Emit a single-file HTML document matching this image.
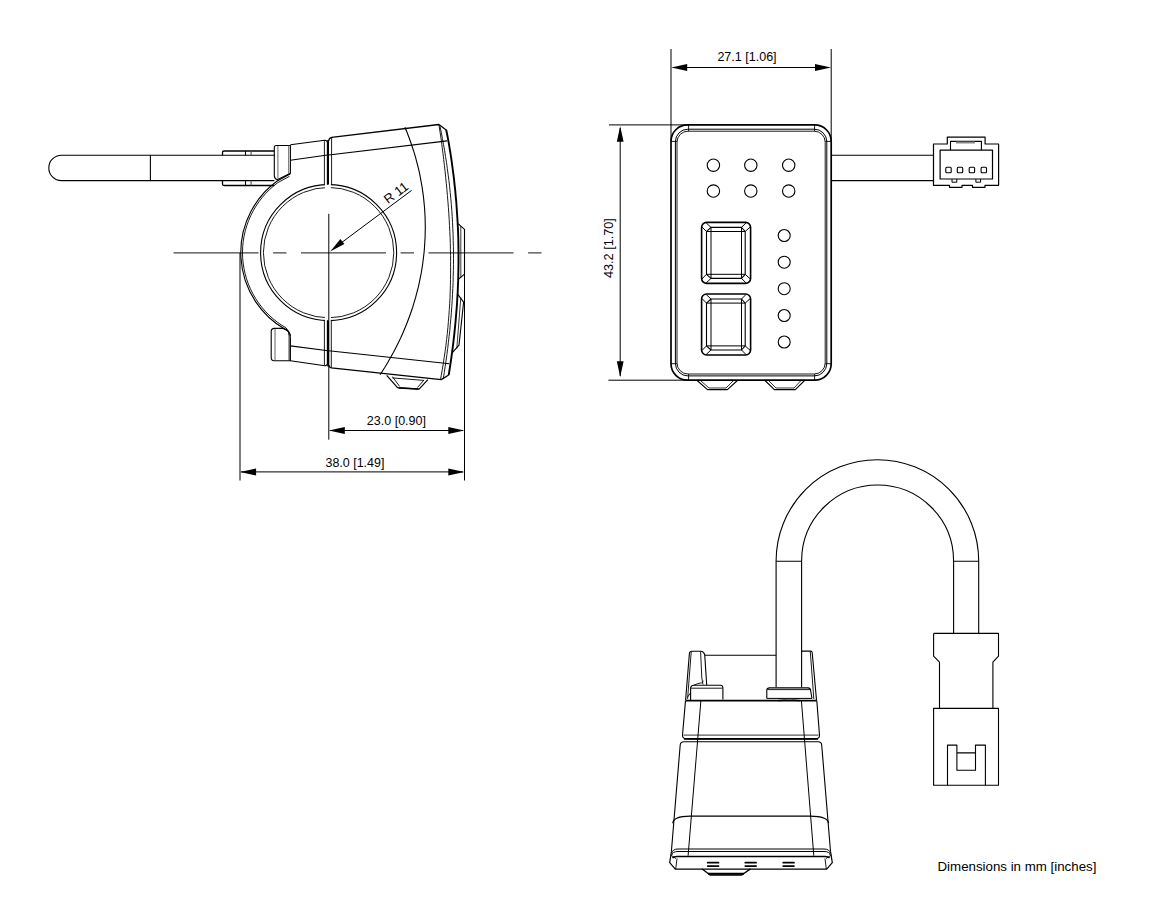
<!DOCTYPE html>
<html><head><meta charset="utf-8">
<style>
html,body{margin:0;padding:0;background:#fff;}
body{width:1165px;height:910px;overflow:hidden;position:relative;}
svg{position:absolute;left:0;top:0;}
text{font-family:"Liberation Sans",sans-serif;fill:#000;}
</style></head>
<body>
<svg width="1165" height="910" viewBox="0 0 1165 910">
<g id="left" fill="none" stroke="#000" stroke-width="1.1" stroke-linejoin="round">
  <!-- center line -->
  <line x1="173.5" y1="252.9" x2="541.5" y2="252.9" stroke="#444" stroke-width="1.3" stroke-dasharray="85 14.6 13.4 14.5"/>
  <!-- rod -->
  <path d="M274.3,155.2 H61.5 A12.7,12.7 0 0 0 61.5,180.6 H274.3"/>
  <line x1="150.4" y1="155.2" x2="150.4" y2="180.6"/>
  <!-- bracket bands -->
  <path d="M274.3,151 H224 Q222.5,151 222.5,152.5 V155.2" stroke-width="1.3"/>
  <path d="M274.3,185.5 H224 Q222.5,185.5 222.5,184 V180.6" stroke-width="1.3"/>
  <path d="M245.5,151 V155.2 M245.5,180.6 V185.5" stroke-width="1.1"/>
  <path d="M251.1,151 V155.2 M251.1,180.6 V185.5" stroke-width="1.1" stroke="#555"/>
  <!-- upper tab -->
  <path d="M290.4,145.5 H276.3 Q274.3,145.5 274.3,147.5 V175.5 Q274.3,178.6 277.2,179.8 L290.4,173.2 Z"/>
  <path d="M277.9,146 V178.5 M288.7,145.5 V174" stroke-width="0.9" stroke="#555"/>
  <!-- clamp outer arc (double) -->
  <path d="M290.4,173.8 L277.2,181 A88.6,88.6 0 0 0 285.4,329.5 Q289.5,331 290.4,336"/>
  <path d="M289.5,176.3 L277.9,182.6 A86.9,86.9 0 0 0 286.2,328 Q289,330.5 289.1,336 V360.5" stroke-width="0.9"/>
  <!-- lower tab -->
  <path d="M290.4,360.7 H274 Q271.2,360.7 271.2,357.5 V331.5 Q271.2,328.4 274.3,328.4 H283 Q290.4,330 290.4,338 Z"/>
  <path d="M275,329 V360" stroke-width="0.9" stroke="#555"/>
  <!-- inner circle double with split -->
  <circle cx="328.6" cy="252.6" r="68"/>
  <circle cx="328.6" cy="252.6" r="65.2" stroke-width="0.9"/>
  <rect x="324.9" y="180" width="6" height="12" fill="#fff" stroke="none"/>
  <rect x="324.9" y="313" width="6" height="12" fill="#fff" stroke="none"/>
  <!-- upper wedge -->
  <path d="M290.4,144.8 L324.7,140.2 Q327.2,140.2 327.4,142.5 V184.8"/>
  <path d="M290.4,160.3 L327.4,155"/>
  <path d="M324.4,141.2 V184.8" stroke-width="0.9"/>
  <!-- lower wedge -->
  <path d="M290.4,345.9 L328.2,350.7"/>
  <path d="M290.4,360.7 L324.8,365.8 Q327.2,365.8 327.4,363.5 V320.3"/>
  <path d="M324.4,320.3 V365" stroke-width="0.9"/>
  <!-- split thick -->
  <path d="M328.1,140 V184.6 M328.1,320.4 V366.5" stroke-width="1.8"/>
  <!-- body top -->
  <path d="M328.6,141 Q329.2,137.6 331.6,137.3 L438.9,124.5 L446.5,130.2" stroke-width="1.3"/>
  <path d="M446.5,130.2  L446.3,130.2 L447.5,136.2 L448.6,142.2 L449.6,148.2 L450.6,154.2 L451.5,160.2 L452.3,166.2 L453.1,172.2 L453.9,178.2 L454.5,184.2 L455.2,190.2 L455.7,196.2 L456.3,202.2 L456.7,208.2 L457.1,214.2 L457.5,220.2 L457.8,226.2 L458.1,232.2 L458.3,238.2 L458.4,244.2 L458.5,250.2 L458.5,256.2 L458.5,262.2 L458.4,268.2 L458.3,274.2 L458.2,280.2 L457.9,286.2 L457.7,292.2 L457.3,298.2 L457.0,304.2 L456.5,310.2 L456.0,316.2 L455.5,322.2 L454.9,328.2 L454.3,334.2 L453.6,340.2 L452.9,346.2 L452.1,352.2 L451.3,358.2 L450.4,364.2 L449.5,370.2 L448.7,375.0" stroke-width="1.9"/>
  <path d="M448.7,375.0 L441.2,379.6 L331.3,367.9 Q329,367.5 328.8,365" stroke-width="1.3"/>
  <path d="M331.6,137.3 V184.6 M331.3,320.4 V367.9" stroke-width="0.9"/>
  <!-- band lines -->
  <path d="M328.7,155 L447.1,140.9"/>
  <path d="M328.7,350.7 L449.3,363.7"/>
  <!-- inner right double lines -->
  <path d="M438.9,124.5 L441.5,141.5 L442.2,147.5 L443.0,153.5 L443.7,159.5 L444.4,165.5 L445.1,171.5 L445.7,177.5 L446.3,183.5 L446.9,189.5 L447.4,195.5 L447.9,201.5 L448.4,207.5 L448.8,213.5 L449.2,219.5 L449.5,225.5 L449.8,231.5 L450.1,237.5 L450.3,243.5 L450.4,249.5 L450.6,255.5 L450.6,261.5 L450.6,267.5 L450.6,273.5 L450.5,279.5 L450.4,285.5 L450.2,291.5 L450.0,297.5 L449.7,303.5 L449.3,309.5 L448.9,315.5 L448.4,321.5 L447.9,327.5 L447.3,333.5 L446.6,339.5 L445.9,345.5 L445.1,351.5 L444.2,357.5 L443.3,363.5 L442.3,369.5 L441.2,375.5 L440.6,379.2" stroke-width="0.9"/>
  <path d="M440.0,126.4 L441.3,132.4 L442.4,138.4 L443.5,144.4 L444.6,150.4 L445.5,156.4 L446.5,162.4 L447.3,168.4 L448.1,174.4 L448.9,180.4 L449.6,186.4 L450.2,192.4 L450.8,198.4 L451.3,204.4 L451.8,210.4 L452.2,216.4 L452.5,222.4 L452.8,228.4 L453.1,234.4 L453.2,240.4 L453.4,246.4 L453.5,252.4 L453.5,258.4 L453.5,264.4 L453.4,270.4 L453.2,276.4 L453.1,282.4 L452.8,288.4 L452.5,294.4 L452.2,300.4 L451.8,306.4 L451.4,312.4 L450.9,318.4 L450.3,324.4 L449.8,330.4 L449.1,336.4 L448.4,342.4 L447.7,348.4 L446.9,354.4 L446.1,360.4 L445.2,366.4 L444.3,372.4 L443.3,378.4 L443.2,378.9" stroke-width="0.9"/>
  <!-- big arc on body -->
  <path d="M404.9,127.2 L407.0,132.2 L408.9,137.2 L410.7,142.2 L412.4,147.2 L414.0,152.2 L415.5,157.2 L416.8,162.2 L418.1,167.2 L419.3,172.2 L420.3,177.2 L421.2,182.2 L422.1,187.2 L422.8,192.2 L423.5,197.2 L424.0,202.2 L424.5,207.2 L424.8,212.2 L425.1,217.2 L425.2,222.2 L425.3,227.2 L425.2,232.2 L425.1,237.2 L424.8,242.2 L424.5,247.2 L424.1,252.2 L423.5,257.2 L422.9,262.2 L422.2,267.2 L421.4,272.2 L420.4,277.2 L419.4,282.2 L418.3,287.2 L417.0,292.2 L415.7,297.2 L414.2,302.2 L412.7,307.2 L411.0,312.2 L409.2,317.2 L407.3,322.2 L405.3,327.2 L403.2,332.2 L401.0,337.2 L398.6,342.2 L396.1,347.2 L393.5,352.2 L390.7,357.2 L387.9,362.2 L384.9,367.2 L381.7,372.2 L380.0,374.8"/>
  <!-- buttons on right -->
  <path d="M458,223.7 L464.5,229.3 V274.1 L458,279.7"/>
  <path d="M460.8,226 V277.5" stroke-width="0.8"/>
  <path d="M458,294.7 L463.6,302.2 L459,345.1 L452.4,352.6"/>
  <path d="M460.8,297.5 L456.8,348.5" stroke-width="0.8"/>
  <!-- bottom foot -->
  <path d="M386.7,375.3 L397.5,387.7 L419.1,389.2 L427.9,379.7" stroke-width="1.2"/>
  <path d="M392.4,376.6 L399.6,386.4 M424,380 L417.5,387.5 M392.4,377.9 L423.8,380.4" stroke-width="0.9"/>
  <path d="M398.5,388 L418.5,389" stroke-width="1.6"/>
  <!-- vertical center & dim ext lines -->
  <path d="M328.8,213.8 V439.7" stroke-width="1"/>
  <path d="M240,253 V480.5 M464.5,229.3 V480.5" stroke-width="1"/>
  <!-- dims -->
  <path d="M330,430.5 H463" stroke-width="1"/>
  <path d="M241,471.9 H463" stroke-width="1"/>
  <!-- R11 leader -->
  <path d="M411.6,190.4 L335,247.5" stroke-width="1"/>
</g>
<g fill="#000" stroke="none">
  <path d="M328.8,430.5 l16,-3.5 v7 z M464.3,430.5 l-16,-3.5 v7 z"/>
  <path d="M240.1,471.9 l16,-3.5 v7 z M464.3,471.9 l-16,-3.5 v7 z"/>
  <path d="M330.2,251.4 L340.4,239 L344.4,243.9 Z"/>
</g>
<g font-size="13">
  <text x="366.8" y="424.6" textLength="59.2" lengthAdjust="spacingAndGlyphs">23.0 [0.90]</text>
  <text x="325.5" y="467.1" textLength="58.9" lengthAdjust="spacingAndGlyphs">38.0 [1.49]</text>
  <text x="0" y="0" transform="translate(388,204.2) rotate(-36.6)">R 11</text>
</g>


<g id="front" fill="none" stroke="#000" stroke-width="1.1" stroke-linejoin="round">
  <!-- dims ext -->
  <path d="M671,49 V141 M831.2,49 V141" stroke-width="1"/>
  <path d="M673,67.5 H829" stroke-width="1"/>
  <path d="M609,124.9 H688 M608.4,380.2 H688" stroke-width="1"/>
  <path d="M620.2,128 V376" stroke-width="1"/>
  <!-- body -->
  <rect x="671" y="124.9" width="160.2" height="255.3" rx="16.5" stroke-width="1.7"/>
  <rect x="675.4" y="129.2" width="151.4" height="246.7" rx="12.5" stroke-width="1"/>
  <rect x="677" y="131.2" width="148.2" height="242.8" rx="11" stroke-width="0.9"/>
  <path d="M688.6,125 V131.2 M814.6,125 V131.2 M688.6,374 V380.2 M814.6,374 V380.2 M671,141.4 H677 M825.2,141.4 H831.2 M671,363.7 H677 M825.2,363.7 H831.2" stroke-width="0.9"/>
  <!-- dots -->
  <circle cx="713.4" cy="165.2" r="6.2"/><circle cx="750.8" cy="165.2" r="6.2"/><circle cx="788.7" cy="165.2" r="6.2"/>
  <circle cx="713.4" cy="191.1" r="6.2"/><circle cx="750.8" cy="191.1" r="6.2"/><circle cx="788.7" cy="191.1" r="6.2"/>
  <circle cx="784.2" cy="235.5" r="6"/><circle cx="784.2" cy="262.2" r="6"/><circle cx="784.2" cy="288.7" r="6"/><circle cx="784.2" cy="315.5" r="6"/><circle cx="784.2" cy="342" r="6"/>

  <g transform="translate(0,0)">
  <rect x="701.6" y="222.4" width="49" height="61" rx="5" stroke-width="1.6"/>
  <path d="M706.5,231.5 L711,227.4 H741.5 L745.2,231.5 V274.3 L741.5,278.4 H711 L706.5,274.3 Z"/>
  <path d="M706.5,231.5 H745.2 M706.5,274.3 H745.2 M711,227.4 V278.4 M741.5,227.4 V278.4" stroke-width="1"/>
  <path d="M706.1,222.8 L711,227.4 M701.8,226.8 L706.5,231.5 M746.1,222.8 L741.5,227.4 M750.4,226.8 L745.2,231.5 M706.1,283 L711,278.4 M701.8,279 L706.5,274.3 M746.1,283 L741.5,278.4 M750.4,279 L745.2,274.3" stroke-width="1"/>
  </g>
  <g transform="translate(0,71.6)">
  <rect x="701.6" y="222.4" width="49" height="61" rx="5" stroke-width="1.6"/>
  <path d="M706.5,231.5 L711,227.4 H741.5 L745.2,231.5 V274.3 L741.5,278.4 H711 L706.5,274.3 Z"/>
  <path d="M706.5,231.5 H745.2 M706.5,274.3 H745.2 M711,227.4 V278.4 M741.5,227.4 V278.4" stroke-width="1"/>
  <path d="M706.1,222.8 L711,227.4 M701.8,226.8 L706.5,231.5 M746.1,222.8 L741.5,227.4 M750.4,226.8 L745.2,231.5 M706.1,283 L711,278.4 M701.8,279 L706.5,274.3 M746.1,283 L741.5,278.4 M750.4,279 L745.2,274.3" stroke-width="1"/>
  </g>
  <!-- feet -->
  <path d="M697.1,380.5 L707.5,389.6 H727.4 L737.4,380.5"/>
  <path d="M701,381 L709,388 H726 L733,381" stroke-width="0.8"/>
  <path d="M765,380.5 L774.4,389.6 H795.3 L804.6,380.5"/>
  <path d="M769,381 L776,388 H794 L800.5,381" stroke-width="0.8"/>
  <!-- cable -->
  <path d="M831.2,155.2 H933.5 M831.2,180.6 H933.5"/>
  <!-- connector -->
  <path d="M933.5,144 H947.3 V137.2 H985.1 V144 H998.6 V185.3 H985 V187.3 H972.5 V185.3 H962 V187.3 H949.5 V185.3 H933.5 Z" stroke-width="1.2"/>
  <rect x="940.1" y="150.1" width="52.4" height="28.9" stroke-width="1.2"/>
  <path d="M950.5,150.1 V141.4 H981.4 V150.1" />
  <path d="M956,142.5 H975" stroke="#888" stroke-width="2"/>
  <rect x="945.8" y="167.3" width="5.4" height="5.4" rx="1"/>
  <rect x="957.3" y="167.3" width="5.4" height="5.4" rx="1"/>
  <rect x="969.2" y="167.3" width="5.4" height="5.4" rx="1"/>
  <rect x="981.1" y="167.3" width="5.4" height="5.4" rx="1"/>
  <path d="M952,179 V182.2 H956.8 V179 M975.9,179 V182.2 H980.6 V179" stroke-width="1"/>
</g>
<g fill="#000" stroke="none">
  <path d="M671.2,67.5 l16,-3.5 v7 z M831,67.5 l-16,-3.5 v7 z"/>
  <path d="M620.2,126.2 l-3.4,15.5 h6.8 z M620.2,377.1 l-3.4,-15.8 h6.8 z"/>
</g>
<g font-size="13">
  <text x="717.4" y="60.8" textLength="59.2" lengthAdjust="spacingAndGlyphs">27.1 [1.06]</text>
  <text x="-29.9" y="0" textLength="59.8" lengthAdjust="spacingAndGlyphs" transform="translate(612.7,248.1) rotate(-90)">43.2 [1.70]</text>
</g>

<g id="bottom" fill="none" stroke="#000" stroke-width="1.1" stroke-linejoin="round">
  <!-- cable arch -->
  <path d="M776.1,687.2 V561 A101.3,101.3 0 0 1 978.7,561 V633.4"/>
  <path d="M801.6,687.2 V561 A76,76 0 0 1 953.6,561 V633.4"/>
  <path d="M776.1,561.2 H801.6 M953.6,561.2 H978.7" stroke="#000"/>
  <!-- connector -->
  <path d="M933.6,633.4 H998.5 V656.2 L992.9,662.1 V708.4 M933.6,633.4 V656.2 L939.5,662.1 V708.4"/>
  <rect x="933.6" y="708.4" width="64.9" height="76.9"/>
  <path d="M947.5,785.3 V745.1 H956.9 V770.3 H975.5 V745.1 H985.4 V785.3 M956.9,752.9 H975.5"/>
  <!-- module top posts -->
  <path d="M685.6,700 L689.4,653.5 Q689.6,651.3 691.8,651.3 H701 Q703.5,651.3 704.7,654.5 L706.7,685"/>
  <path d="M691.2,652 L687.6,699" stroke-width="0.9"/>
  <path d="M700.6,651.6 L701.8,678 L703,684.5" stroke-width="0.9"/>
  <path d="M693.5,685.4 Q697,683.4 701.5,682.8 L703.5,681" stroke-width="0.9"/>
  <path d="M687.2,697.5 L690.6,692.8" stroke-width="0.9"/>
  <path d="M704.8,655.2 H776.2" />
  <path d="M801.8,651.1 H810.6 Q812,651.2 812.2,652.5 L816.5,700" />
  <path d="M810.3,651.5 L813.8,699" stroke-width="0.9"/>
  <!-- small blocks -->
  <path d="M690.6,700 V688 Q690.9,685.2 694,685.2 H720.3 Q722.9,685.2 722.9,688 V699.5"/>
  <path d="M691,688.2 H722.5" stroke-width="0.9"/>
  <path d="M766.8,698.5 V690 Q767,687.9 769.5,687.9 H808 Q810.4,688 810.6,690.5 L812,698.3"/>
  <path d="M767.5,689.6 H810.2" stroke-width="0.9"/>
  <path d="M766.8,698.4 H812" stroke-width="1"/>
  <path d="M685.5,700.6 H816.8" stroke-width="1.9"/>
  <path d="M778,698.6 Q789,700.5 800,701 M778,701 Q789,700.5 800,698.6" stroke-width="0.6"/>
  <!-- upper body -->
  <path d="M685.5,700.6 L682.5,735 Q682.3,738.9 686.5,738.9 H815.5 Q819.7,738.9 819.5,735 L816.8,700.6"/>
  <path d="M683.5,735.1 H818.5" stroke-width="1" stroke="#333"/>
  <path d="M684,738.9 H818" stroke-width="1.8"/>
  <!-- lower body -->
  <path d="M680.2,745 Q680.5,741.8 684,741.8 H818 Q821.5,741.8 821.7,745 L830.5,851.3 M680.2,745 L671.4,851.3"/>
  <path d="M700.9,700.6 L688.1,855.7 M801.4,700.6 L813.8,855.7" stroke-width="1"/>
  <path d="M672.7,823.2 Q673.5,816.1 689.9,816.1 H810.3 Q827.5,816.1 828.7,823.2"/>
  <path d="M671.8,853 Q672.5,849 678,849 H824 Q829.5,849 830.2,853" stroke-width="1"/>
  <path d="M671.8,855 Q672.5,851.5 678,851.5 H824 Q829.5,851.5 830.2,855" stroke-width="1"/>
  <path d="M672.5,858 Q673.5,856.5 677,856.5 H825 Q828.5,856.5 829.5,858" stroke-width="1.6"/>
  <path d="M671.5,851.3 L669.7,862.7 L675.3,869.2 H826.7 L832.3,862.7 L830.5,851.3" stroke-width="1.2"/>
  <path d="M670.5,855 L676,858.5 M677,858.5 L675.7,869" stroke-width="0.9"/>
  <path d="M831.5,855 L826,858.5 M825,858.5 L826.3,869" stroke-width="0.9"/>
  <path d="M707.7,862.7 H718.5 M707.7,866.1 H718.5 M745.3,862.7 H756.1 M745.3,866.1 H756.1 M783.2,862.7 H794 M783.2,866.1 H794" stroke-width="1.7" stroke-linecap="round"/>
  <path d="M702.2,868.9 L710.1,875 H741.7 L750.5,868.9" stroke-width="1.3"/>
  <path d="M708,873.8 H744" stroke-width="2"/>
</g>
<g font-size="13.3">
  <text x="937.5" y="871">Dimensions in mm [inches]</text>
</g>
</svg>
</body></html>
